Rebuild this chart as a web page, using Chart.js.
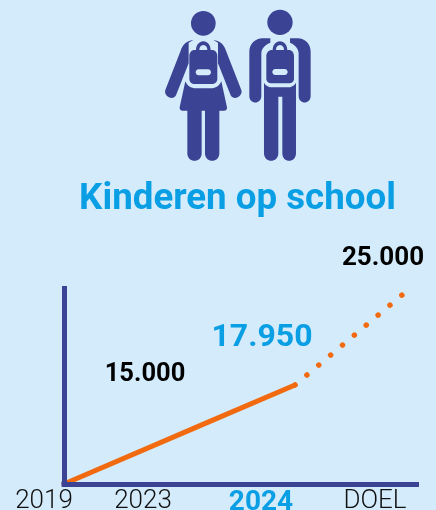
<!DOCTYPE html>
<html><head><meta charset="utf-8">
<style>
html,body{margin:0;padding:0;background:#d3ebfb;width:436px;height:510px;overflow:hidden}
#wrap{position:relative;width:436px;height:510px}
canvas{position:absolute;left:0;top:0}
svg{position:absolute;left:0;top:0}
</style>
<script src="https://cdn.jsdelivr.net/npm/chart.js@4"></script>
</head><body><div id="wrap">
<svg width="436" height="170" viewBox="0 0 436 170">
<g transform="translate(150,0) scale(0.3333)">
 <g fill="#3b4395">
  <circle cx="160" cy="70" r="37"/>
  <path d="M130 120C108 122 98 135 92 152L46 270C40 288 68 304 78 286L116 190V128Z"/>
  <path d="M190 120C212 122 222 135 228 152L274 270C280 288 252 304 242 286L204 190V128Z"/>
  <path d="M106 244C112 258 122 265 138 265H182C198 265 208 258 214 244L231 322C232 329 228 332 222 332H98C92 332 88 329 89 322Z"/>
  <path d="M112 330H155V460C155 490 112 490 112 460Z"/>
  <path d="M165 330H208V460C208 490 165 490 165 460Z"/>
  <path fill-rule="evenodd" d="M138 150C138 136 148 124 160 124C172 124 182 136 182 150H186C196 150 202 158 202 168V236C202 246 194 252 186 252H134C126 252 118 246 118 236V168C118 158 124 150 134 150ZM148 150H172C172 142 168 135 160 135C152 135 148 142 148 150ZM146 208C134 208 134 226 146 226H174C186 226 186 208 174 208Z"/>
  <circle cx="390" cy="67" r="38"/>
  <path d="M361 115H338C316 115 298 132 298 155V288C298 314 334 314 334 288V160C334 146 346 134 361 128Z"/>
  <path d="M420 115H443C465 115 482 132 482 155V288C482 314 446 314 446 288V160C446 146 434 134 420 128Z"/>
  <path d="M342 248C348 258 356 262 368 262H412C424 262 432 258 438 248V460C438 490 397 490 397 460V290H385V460C385 490 342 490 342 460Z"/>
  <path fill-rule="evenodd" d="M368 150C368 136 378 124 390 124C402 124 412 136 412 150H416C426 150 432 158 432 168V236C432 244 426 250 416 250H366C356 250 349 244 349 236V168C349 158 356 150 366 150ZM378 150H402C402 142 398 135 390 135C382 135 378 142 378 150ZM376 207C364 207 364 225 376 225H404C416 225 416 207 404 207Z"/>
 </g>
</g>
</svg>
<canvas id="c" width="436" height="510"></canvas>
</div>
<script>
// Data
const titleText = 'Kinderen op school';
const tickLabels = ['2019', '2023', '2024', 'DOEL'];
const actualValues = [10195, 15000, 17950];
const goalValues = [17950, 25000];
const valueLabels = ['15.000', '17.950', '25.000'];

// Horizontal placement on a free position axis (the picture is not to time scale)
const tickAt = [4, 103, 221, 335];
const actualAt = [0, 143, 231];
const goalAt = [231, 338];

const NAVY = '#3b4395', ORANGE = '#f26a10', BLUE = '#0a9fe4';
const FONT = 'Roboto, "Liberation Sans", sans-serif';

const labelStyle = [
  {dx: -62, dy: -48, size: 25.5, color: '#000'},
  {dx: -33, dy: -47, size: 32, color: BLUE},
  {dx: -19, dy: -37, size: 26, color: '#000'}
];

const valueLabelPlugin = {
  id: 'valueLabels',
  afterDatasetsDraw(chart) {
    const {ctx, scales: {x, y}} = chart;
    const anchors = [[actualAt[1], actualValues[1]], [actualAt[2], actualValues[2]], [goalAt[1], goalValues[1]]];
    ctx.save();
    ctx.textAlign = 'center';
    ctx.textBaseline = 'middle';
    anchors.forEach(([px, v], i) => {
      const s = labelStyle[i];
      ctx.font = 'bold ' + s.size + 'px ' + FONT;
      ctx.fillStyle = s.color;
      ctx.fillText(valueLabels[i], x.getPixelForValue(px) + s.dx, y.getPixelForValue(v) + s.dy);
    });
    ctx.restore();
  }
};

// Squares the outer corner where the two axis borders meet
const axisCornerPlugin = {
  id: 'axisCorner',
  afterDraw(chart) {
    const {ctx, chartArea: a} = chart;
    ctx.save();
    ctx.fillStyle = NAVY;
    ctx.fillRect(a.left - 2.5, a.bottom - 2.5, 5, 5);
    ctx.restore();
  }
};

new Chart(document.getElementById('c'), {
  type: 'line',
  data: {
    datasets: [
      {label: 'Kinderen op school', data: actualAt.map((x, i) => ({x, y: actualValues[i]})),
       borderColor: ORANGE, borderWidth: 5, pointRadius: 0, tension: 0, borderCapStyle: 'round', clip: false},
      {label: 'Doel', data: goalAt.map((x, i) => ({x, y: goalValues[i]})),
       borderColor: ORANGE, borderWidth: 5.5, pointRadius: 0, tension: 0,
       borderDash: [0.01, 15.5], borderCapStyle: 'round', clip: false}
    ]
  },
  options: {
    responsive: false,
    animation: false,
    events: [],
    layout: {padding: {left: 57, right: 18, top: 0, bottom: 0}},
    plugins: {
      legend: {display: false},
      tooltip: {enabled: false},
      title: {
        display: true, text: titleText, color: BLUE,
        font: {family: FONT, size: 36.7, weight: 'bold', lineHeight: 1.2},
        padding: {top: 178, bottom: 66}
      }
    },
    scales: {
      x: {
        type: 'linear', min: 0, max: 354,
        afterBuildTicks: s => { s.ticks = tickAt.map(value => ({value})); },
        afterFit: s => { s.height = 26; s.paddingLeft = 0; s.paddingRight = 0; },
        grid: {display: false, drawTicks: false},
        border: {display: true, color: NAVY, width: 5, z: 2},
        ticks: {
          autoSkip: false, maxRotation: 0, minRotation: 0, padding: 2, labelOffset: -24,
          callback: (v, i) => tickLabels[i],
          color: c => c.index === 2 ? BLUE : '#111',
          font: c => c.index === 2
            ? {family: FONT, size: 28, weight: 'bold', lineHeight: 1.2}
            : {family: FONT, size: 26, weight: '300', lineHeight: 1.2}
        }
      },
      y: {
        type: 'linear', min: 10195, max: 25548,
        afterFit: s => { s.width = 7; },
        grid: {display: false, drawTicks: false},
        border: {display: true, color: NAVY, width: 5, z: 2},
        ticks: {display: false}
      }
    }
  },
  plugins: [valueLabelPlugin, axisCornerPlugin]
});
</script>
</body></html>
